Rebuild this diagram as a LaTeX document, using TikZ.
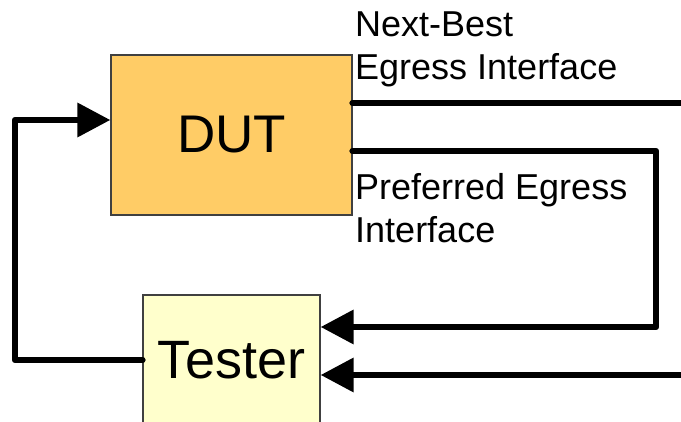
\documentclass[tikz,border=0pt]{standalone}
\usepackage{fontspec}
\setmainfont{Liberation Sans}
\usetikzlibrary{arrows.meta}

\definecolor{dutfill}{RGB}{255,204,102}
\definecolor{testerfill}{RGB}{255,255,204}

\tikzset{
  unit/.style = {draw = black!75, line width = 1.2pt, inner sep = 0pt},
  lbl/.style = {inner sep = 0pt, align = left, anchor = north west,
    font = \fontsize{36}{43}\selectfont},
  wire/.style = {line width = 6.5pt, line cap = round, line join = round},
  feed/.style = {wire, -{Triangle[length = 33pt, width = 33pt]}}
}

\begin{document}
\begin{tikzpicture}[x = 1pt, y = -1pt]
    \useasboundingbox (0,0) rectangle (681,422);
    % boxes
    \node[unit, fill = dutfill, minimum width = 241pt, minimum height = 160pt,
      font = \fontsize{53}{60}\selectfont] (dut) at (231.5,135) {DUT};
    \node[unit, fill = testerfill, minimum width = 177pt, minimum height = 130pt,
      font = \fontsize{54}{60}\selectfont] (tester) at (231.5,360) {Tester};
    % labels
    \node[lbl] (nextbest) at (355,12) {Next-Best\\Egress Interface};
    \node[lbl] (preferred) at (355,173) {Preferred Egress\\Interface};
    % free ends and corners
    \coordinate (nbend) at (681,103);
    \coordinate (prefcorner) at (656,151);
    \coordinate (prefdown) at (656,327);
    \coordinate (inend) at (681,375);
    \coordinate (loopbot) at (15,360);
    \coordinate (looptop) at (15,120);
    % connectors
    \draw[wire] ([yshift = 32pt]dut.east) -- (nbend);
    \draw[feed] ([yshift = -16pt]dut.east) -- (prefcorner) -- (prefdown)
      -- ([yshift = 33pt]tester.east);
    \draw[feed] (inend) -- ([yshift = -15pt]tester.east);
    \draw[feed] (tester.west) -- (loopbot) -- (looptop)
      -- ([yshift = 15pt]dut.west);
\end{tikzpicture}
\end{document}
